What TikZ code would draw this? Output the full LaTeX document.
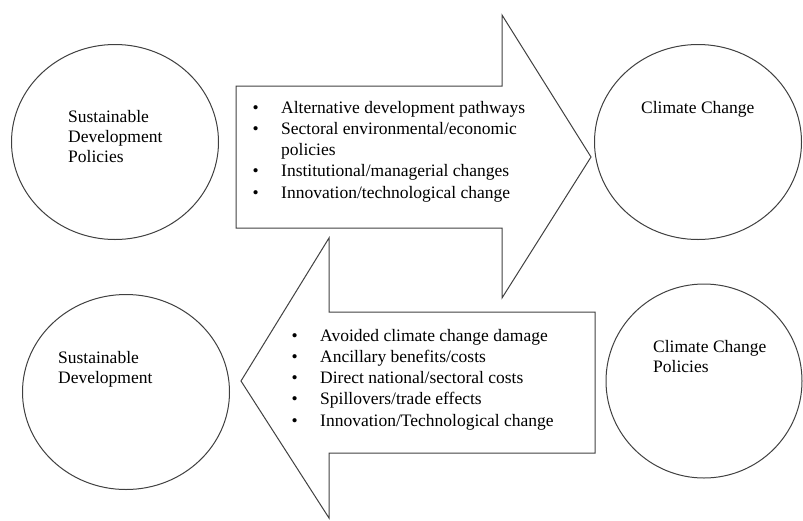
\documentclass[tikz,border=0pt]{standalone}
\usepackage{fontspec}
\setmainfont{Liberation Serif}
\usetikzlibrary{shapes.geometric}
\tikzset{bubble/.style={draw=black!75,line width=1pt,ellipse,minimum width=207pt,minimum height=195pt,inner sep=0pt},
         bigarrow/.style={draw=black!75,line width=1pt,line join=miter},
         caption/.style={anchor=north west,inner sep=0pt,align=left,font=\fontsize{17.5}{20}\selectfont},
         points/.style={anchor=north west,inner sep=0pt,align=left,font=\fontsize{17.5}{21.2}\selectfont},
        }
\newcommand{\bul}{\makebox[28.5pt][l]{\textbullet}}

\begin{document}
\begin{tikzpicture}[x=1pt,y=-1pt]
        \useasboundingbox(0,0)rectangle(803,520);

        \node[bubble](sdp)at(115,142){};
        \node[bubble](cc)at(698,142){};
        \node[bubble](sd)at(126,392){};
        \node[bubble,minimum width=196pt,minimum height=194pt](ccp)at(704,381){};

        \node[caption](sdplabel)at(68,110){Sustainable\\Development\\Policies};
        \node[caption](cclabel)at(641,101){Climate Change};
        \node[caption](sdlabel)at(58,351){Sustainable\\Development};
        \node[caption](ccplabel)at(653,340){Climate Change\\Policies};

        % forward arrow
        \draw[bigarrow](236,86)--(502,86)--(502,15)--(591,157)--(502,298)--(502,228)--(236,228)--cycle;
        \node[points](forward)at(252.5,101){\bul Alternative development pathways\\
            \bul Sectoral environmental/economic\\
            \hspace*{28.5pt}policies\\
            \bul Institutional/managerial changes\\
            \bul Innovation/technological change};

        % backward arrow
        \draw[bigarrow](595,312)--(329,312)--(329,238)--(241,381)--(329,518)--(329,453)--(595,453)--cycle;
        \node[points](backward)at(291.5,329){\bul Avoided climate change damage\\
            \bul Ancillary benefits/costs\\
            \bul Direct national/sectoral costs\\
            \bul Spillovers/trade effects\\
            \bul Innovation/Technological change};
    \end{tikzpicture}
\end{document}
